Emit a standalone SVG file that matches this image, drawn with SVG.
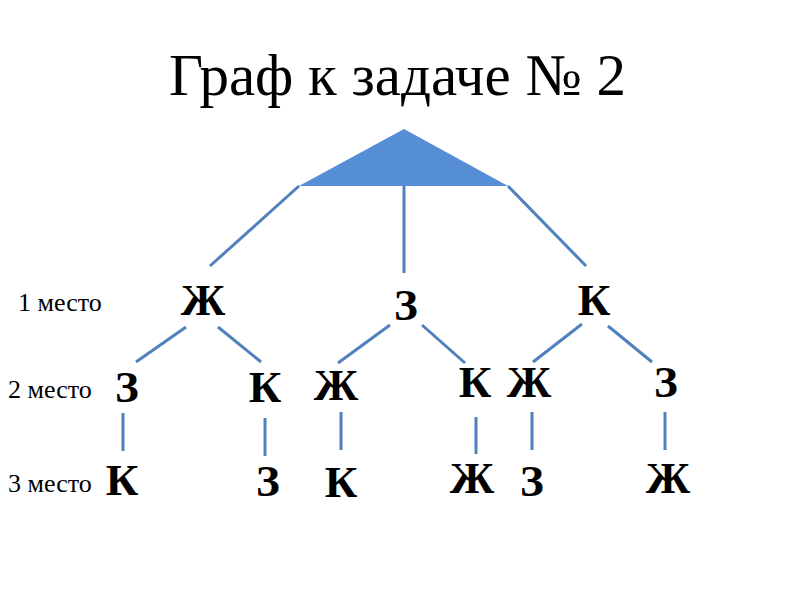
<svg xmlns="http://www.w3.org/2000/svg" width="800" height="600" viewBox="0 0 800 600">
<style>
.title{font-family:"Liberation Serif","Times New Roman",serif;font-size:59px;fill:#000}
.lbl{font-family:"Liberation Serif","Times New Roman",serif;font-size:26px;fill:#000}
.n{font-family:"Liberation Serif","Times New Roman",serif;font-size:45px;font-weight:bold;fill:#000;text-anchor:middle}
.e{stroke:#4f81bd;stroke-width:3;fill:none}
</style>
<rect width="800" height="600" fill="#fff"/>
<text class="title" x="169" y="95">Граф к задаче № 2</text>
<g id="labels">
<text class="lbl" x="18" y="311">1 место</text>
<text class="lbl" x="8" y="398">2 место</text>
<text class="lbl" x="8" y="492">3 место</text>
</g>
<g id="root"><polygon points="404,129 299,186 508,186" fill="#558ed5"/></g>
<g id="connectors" class="e">
<line x1="299" y1="186" x2="210" y2="266"/>
<line x1="404" y1="186" x2="404" y2="273"/>
<line x1="508" y1="186" x2="586" y2="266"/>
<line x1="186" y1="327" x2="136" y2="362"/>
<line x1="218" y1="327" x2="261" y2="362"/>
<line x1="390" y1="325" x2="338" y2="363"/>
<line x1="422" y1="325" x2="465" y2="363"/>
<line x1="582" y1="324" x2="533" y2="362"/>
<line x1="608" y1="326" x2="652" y2="362"/>
<line x1="123" y1="413" x2="123" y2="451"/>
<line x1="265" y1="418" x2="265" y2="456"/>
<line x1="341" y1="412" x2="341" y2="450"/>
<line x1="476" y1="417" x2="476" y2="454"/>
<line x1="532" y1="412" x2="532" y2="450"/>
<line x1="665" y1="412" x2="665" y2="450"/>
</g>
<g id="n1"><text class="n" x="203" y="315">Ж</text></g>
<g id="n2"><text class="n" x="406" y="320">З</text></g>
<g id="n3"><text class="n" x="594" y="315">К</text></g>
<g id="n4"><text class="n" x="127" y="402">З</text></g>
<g id="n5"><text class="n" x="265" y="402">К</text></g>
<g id="n6"><text class="n" x="336" y="400">Ж</text></g>
<g id="n7"><text class="n" x="475" y="397">К</text></g>
<g id="n8"><text class="n" x="529" y="397">Ж</text></g>
<g id="n9"><text class="n" x="666" y="397">З</text></g>
<g id="n10"><text class="n" x="122" y="495">К</text></g>
<g id="n11"><text class="n" x="268" y="496">З</text></g>
<g id="n12"><text class="n" x="341" y="497">К</text></g>
<g id="n13"><text class="n" x="472" y="493">Ж</text></g>
<g id="n14"><text class="n" x="532" y="496">З</text></g>
<g id="n15"><text class="n" x="668" y="493">Ж</text></g>
</svg>
